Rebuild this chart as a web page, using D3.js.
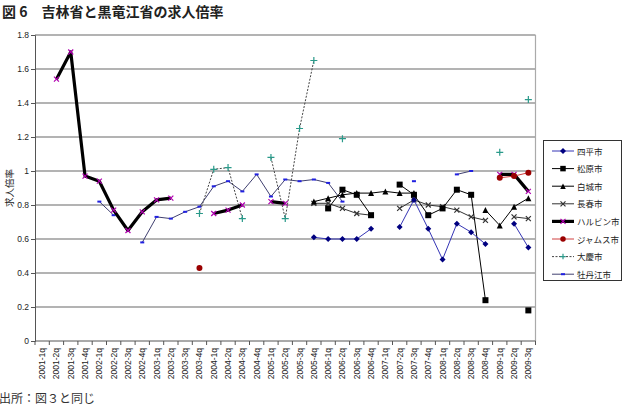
<!DOCTYPE html>
<html><head><meta charset="utf-8">
<script src="https://cdn.jsdelivr.net/npm/d3@7"></script>
<style>
html,body{margin:0;padding:0;background:#fff;}
svg{display:block;}
</style></head>
<body>
<script>
const categories = [];
for (let yr = 2001; yr <= 2009; yr++) for (let q = 1; q <= 4; q++) { if (yr === 2009 && q > 3) break; categories.push(yr + "-" + q + "q"); }
const yTicks = [0, 0.2, 0.4, 0.6, 0.8, 1, 1.2, 1.4, 1.6, 1.8];
const yTickLabels = ["0", "0.2", "0.4", "0.6", "0.8", "1", "1.2", "1.4", "1.6", "1.8"];
const N = null;
// index 0..34
const siping    = [N,N,N,N,N,N,N,N,N,N,N,N,N,N,N,N,N,N,N,0.61,0.60,0.60,0.60,0.66,N,0.67,0.83,0.66,0.48,0.69,0.64,0.57,N,0.69,0.55];
const songyuan  = [N,N,N,N,N,N,N,N,N,N,N,N,N,N,N,N,N,N,N,N,0.78,0.89,0.86,0.74,N,0.92,0.86,0.74,0.78,0.89,0.86,0.24,N,N,0.18];
const baicheng  = [N,N,N,N,N,N,N,N,N,N,N,N,N,N,N,N,N,N,N,0.82,0.84,0.86,0.87,0.87,0.88,0.87,0.87,N,N,N,N,0.77,0.68,0.79,0.84];
const changchun = [N,N,N,N,N,N,N,N,N,N,N,N,N,N,N,N,N,N,N,0.81,0.81,0.78,0.75,0.74,N,0.78,0.83,0.80,0.79,0.77,0.73,0.71,N,0.73,0.72];
const harbin    = [N,1.54,1.70,0.97,0.94,0.77,0.65,0.76,0.83,0.84,N,N,0.75,0.77,0.80,N,0.82,0.81,N,N,N,N,N,N,N,N,N,N,N,N,N,N,0.98,0.98,0.88];
const jiamusi   = [N,N,N,N,N,N,N,N,N,N,N,0.43,N,N,N,N,N,N,N,N,N,N,N,N,N,N,N,N,N,N,N,N,0.96,0.97,0.99];
const daqing    = [N,N,N,N,N,N,N,N,N,N,N,0.75,1.01,1.02,0.72,N,1.08,0.72,1.25,1.65,N,1.19,N,N,N,N,N,N,N,N,N,N,1.11,N,1.42];
const mudanjiang= [N,N,N,N,0.82,0.74,N,0.58,0.73,0.72,0.76,0.79,0.91,0.94,0.88,0.98,0.85,0.95,0.94,0.95,0.93,0.82,N,N,N,N,0.94,N,N,0.98,1.00,N,N,N,N];

const seriesNames = ["四平市","松原市","白城市","長春市","ハルビン市","ジャムス市","大慶市","牡丹江市"];
const seriesData = [siping, songyuan, baicheng, changchun, harbin, jiamusi, daqing, mudanjiang];
const styles = [
  {line:"#3535b5", w:1, dash:null, marker:"diamond", mc:"#000080", ms:5},
  {line:"#000", w:1, dash:null, marker:"square", mc:"#000", ms:6},
  {line:"#000", w:1, dash:null, marker:"triangle", mc:"#000", ms:6},
  {line:"#333", w:1, dash:null, marker:"x", mc:"#333", ms:5},
  {line:"#000", w:3.2, dash:null, marker:"x", mc:"#b000b0", ms:5},
  {line:"#d04040", w:1, dash:null, marker:"circle", mc:"#9a0000", ms:6},
  {line:"#444", w:1, dash:"2,1.5", marker:"plus", mc:"#2a9a8a", ms:7},
  {line:"#404070", w:1, dash:null, marker:"dash", mc:"#2020e0", ms:4}
];

const W = 628, H = 406;
const svg = d3.select("body").append("svg").attr("width", W).attr("height", H);
const x = d3.scaleBand().domain(categories).range([35, 535.5]).padding(0);
const cx = c => x(c) + x.bandwidth() / 2;
const y = d3.scaleLinear().domain([0, 1.8]).range([341, 35]);

// title
svg.append("text").attr("x", 2).attr("y", 17).attr("font-family", "Noto Sans CJK JP").attr("font-weight", "bold")
  .attr("font-size", 14).attr("fill", "#222").text("図 6　吉林省と黒竜江省の求人倍率");

// gridlines
svg.append("g").selectAll("line").data(yTicks.filter(d => d > 0)).join("line")
  .attr("x1", 35).attr("x2", 535.5).attr("y1", d => y(d)).attr("y2", d => y(d))
  .attr("stroke", "#9a9a9a").attr("stroke-width", 1.3);
// right border
svg.append("line").attr("x1", 535.5).attr("x2", 535.5).attr("y1", y(1.8)).attr("y2", y(0)).attr("stroke", "#aaa").attr("stroke-width", 1.2);

// y axis
const yAxis = d3.axisLeft(y).tickValues(yTicks).tickFormat((d, i) => yTickLabels[i]).tickSize(4);
const gy = svg.append("g").attr("transform", "translate(35,0)").call(yAxis);
gy.select(".domain").attr("stroke", "#555");
gy.selectAll(".tick line").attr("stroke", "#555");
gy.selectAll("text").attr("font-family", "Liberation Sans").attr("font-size", 8.5).attr("fill", "#222").attr("x", -6);

// x axis
svg.append("line").attr("x1", 35).attr("x2", 535.5).attr("y1", y(0)).attr("y2", y(0)).attr("stroke", "#555");
svg.append("g").selectAll("line").data(categories.concat(["__end"])).join("line")
  .attr("x1", d => d === "__end" ? 535.5 : x(d)).attr("x2", d => d === "__end" ? 535.5 : x(d))
  .attr("y1", y(0)).attr("y2", y(0) + 4).attr("stroke", "#555");
svg.append("g").selectAll("text").data(categories).join("text")
  .attr("transform", d => `translate(${cx(d) + 3},${y(0) + 7}) rotate(-90)`)
  .attr("text-anchor", "end").attr("font-family", "Liberation Sans").attr("font-size", 8.5).attr("fill", "#222")
  .text(d => d);

// y label
svg.append("text").attr("transform", "translate(13,188) rotate(-90)").attr("text-anchor", "middle")
  .attr("font-family", "Noto Sans CJK JP").attr("font-size", 9.5).attr("fill", "#222").text("求人倍率");

// footer
svg.append("text").attr("x", -1).attr("y", 403).attr("font-family", "Noto Sans CJK JP").attr("font-size", 12)
  .attr("fill", "#333").text("出所：図３と同じ");

function drawMarker(g, type, color, s) {
  const h = s / 2;
  if (type === "diamond") g.append("path").attr("d", `M0,${-h-0.5}L${h+0.5},0L0,${h+0.5}L${-h-0.5},0Z`).attr("fill", color);
  else if (type === "square") g.append("rect").attr("x", -h).attr("y", -h).attr("width", s).attr("height", s).attr("fill", color);
  else if (type === "triangle") g.append("path").attr("d", `M0,${-h}L${h},${h}L${-h},${h}Z`).attr("fill", color);
  else if (type === "circle") g.append("circle").attr("r", h).attr("fill", color);
  else if (type === "x") g.append("path").attr("d", `M${-h},${-h}L${h},${h}M${-h},${h}L${h},${-h}`).attr("stroke", color).attr("stroke-width", 1.2).attr("fill", "none");
  else if (type === "plus") g.append("path").attr("d", `M${-h},0L${h},0M0,${-h}L0,${h}`).attr("stroke", color).attr("stroke-width", 1.2).attr("fill", "none");
  else if (type === "dash") g.append("rect").attr("x", -h).attr("y", -1).attr("width", s).attr("height", 2).attr("fill", color);
}

const line = d3.line().defined(d => d.v != null).x(d => cx(d.c)).y(d => y(d.v));
const drawOrder = [7, 6, 3, 2, 1, 0, 4, 5];
drawOrder.forEach(si => {
  const st = styles[si];
  const pts = seriesData[si].map((v, i) => ({c: categories[i], v}));
  svg.append("path").datum(pts).attr("d", line).attr("fill", "none").attr("stroke", st.line)
    .attr("stroke-width", st.w).attr("stroke-dasharray", st.dash).attr("stroke-linejoin", "round");
  const mg = svg.append("g");
  pts.filter(p => p.v != null).forEach(p => {
    const g = mg.append("g").attr("transform", `translate(${cx(p.c)},${y(p.v)})`);
    drawMarker(g, st.marker, st.mc, st.ms);
  });
});

// legend
const lg = svg.append("g");
lg.append("rect").attr("x", 543.5).attr("y", 140.5).attr("width", 78).attr("height", 140).attr("fill", "#fff").attr("stroke", "#333").attr("stroke-width", 1);
seriesNames.forEach((name, i) => {
  const st = styles[i];
  const ly = 151 + i * 17.6;
  lg.append("line").attr("x1", 552).attr("x2", 574).attr("y1", ly).attr("y2", ly).attr("stroke", st.line)
    .attr("stroke-width", st.w).attr("stroke-dasharray", st.dash);
  const g = lg.append("g").attr("transform", `translate(563,${ly})`);
  drawMarker(g, st.marker, st.mc, Math.min(st.ms, 5.5));
  lg.append("text").attr("x", 577).attr("y", ly + 3.5).attr("font-family", "Noto Sans CJK JP").attr("font-size", 8.5)
    .attr("fill", "#222").text(name);
});
</script>
</body></html>
